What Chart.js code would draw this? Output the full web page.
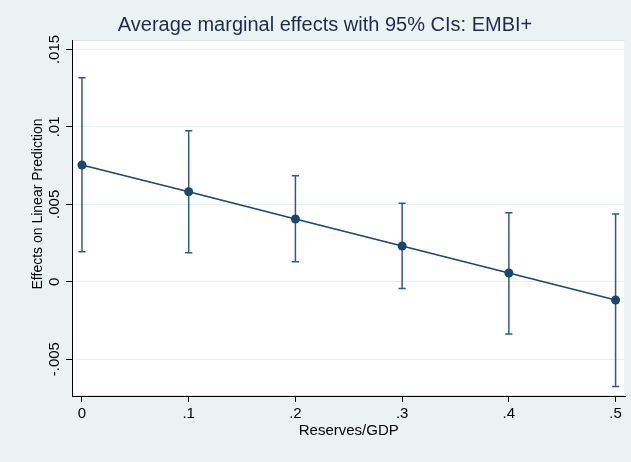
<!DOCTYPE html>
<html>
<head>
<meta charset="utf-8">
<script src="https://cdn.jsdelivr.net/npm/chart.js@4/dist/chart.umd.min.js"></script>
<style>
  html, body { margin: 0; padding: 0; background: #eaf2f3; }
  canvas { display: block; }
</style>
</head>
<body>
<canvas id="c" width="631" height="462"></canvas>
<script>
// ---- Data ----
const xValues   = [0, 0.1, 0.2, 0.3, 0.4, 0.5];
const effects   = [0.00754, 0.00581, 0.00405, 0.00231, 0.00056, -0.00118];
const ciLower   = [0.00194, 0.00187, 0.00129, -0.00043, -0.00338, -0.00676];
const ciUpper   = [0.01318, 0.00975, 0.00685, 0.00506, 0.00446, 0.00437];

const xTicks      = [0, 0.1, 0.2, 0.3, 0.4, 0.5];
const xTickLabels = ['0', '.1', '.2', '.3', '.4', '.5'];
const yTicks      = [-0.005, 0, 0.005, 0.01, 0.015];
const yTickLabels = ['-.005', '0', '.005', '.01', '.015'];

const titleText  = 'Average marginal effects with 95% CIs: EMBI+';
const xTitleText = 'Reserves/GDP';
const yTitleText = 'Effects on Linear Prediction';

// ---- Styles ----
const NAVY = '#1a476f';
const CI_COLOR = '#2e5a84';
const FONT = '"Liberation Sans", Arial, sans-serif';

const datasets = [{
  label: 'effect',
  data: xValues.map((x, i) => ({ x: x, y: effects[i] })),
  showLine: true,
  borderColor: NAVY,
  borderWidth: 1.5,
  pointRadius: 4.5,
  pointBackgroundColor: NAVY,
  pointBorderWidth: 0,
  order: 0
}];
xValues.forEach((x, i) => {
  datasets.push({
    label: 'ci' + i,
    data: [{ x: x, y: ciLower[i] }, { x: x, y: ciUpper[i] }],
    showLine: true,
    borderColor: CI_COLOR,
    borderWidth: 1.5,
    pointStyle: 'line',
    pointRadius: 3.6,
    pointBorderColor: CI_COLOR,
    pointBorderWidth: 1.5,
    order: 1
  });
});

const bgPlugin = {
  id: 'bg',
  beforeDraw(chart) {
    const { ctx, chartArea: a } = chart;
    ctx.save();
    ctx.fillStyle = '#eaf2f3';
    ctx.fillRect(0, 0, chart.width, chart.height);
    ctx.fillStyle = '#ffffff';
    ctx.fillRect(a.left, a.top, a.right - a.left, a.bottom - a.top);
    ctx.strokeStyle = '#dde7ea';
    ctx.lineWidth = 1;
    ctx.strokeRect(a.left + 0.5, a.top + 0.5, a.right - a.left - 1, a.bottom - a.top - 1);
    ctx.restore();
  }
};

const textPlugin = {
  id: 'texts',
  afterDraw(chart) {
    const { ctx, chartArea: a } = chart;
    const xs = chart.scales.x, ys = chart.scales.y;
    ctx.save();
    // Title
    ctx.fillStyle = '#1e2b4d';
    ctx.font = '20px ' + FONT;
    ctx.textAlign = 'center';
    ctx.textBaseline = 'alphabetic';
    ctx.fillText(titleText, 325, 31);

    // X tick labels
    ctx.fillStyle = '#000';
    ctx.font = '15px ' + FONT;
    ctx.textAlign = 'center';
    xTicks.forEach((v, i) => {
      ctx.fillText(xTickLabels[i], xs.getPixelForValue(v), 418);
    });
    // X title
    ctx.fillText(xTitleText, (a.left + a.right) / 2, 435);

    // Y tick labels (rotated)
    yTicks.forEach((v, i) => {
      ctx.save();
      ctx.translate(59, ys.getPixelForValue(v));
      ctx.rotate(-Math.PI / 2);
      ctx.textAlign = 'center';
      ctx.fillText(yTickLabels[i], 0, 0);
      ctx.restore();
    });
    // Y title
    ctx.save();
    ctx.font = '14px ' + FONT;
    ctx.translate(42, 204);
    ctx.rotate(-Math.PI / 2);
    ctx.textAlign = 'center';
    ctx.fillText(yTitleText, 0, 0);
    ctx.restore();
    ctx.restore();
  }
};

new Chart(document.getElementById('c'), {
  type: 'scatter',
  data: { datasets: datasets },
  options: {
    responsive: false,
    animation: false,
    layout: { padding: { left: 0, right: 4, top: 40, bottom: 0 } },
    plugins: { legend: { display: false }, tooltip: { enabled: false }, title: { display: false } },
    scales: {
      x: {
        type: 'linear',
        min: -0.00935,
        max: 0.5093,
        afterBuildTicks: s => { s.ticks = xTicks.map(v => ({ value: v })); },
        afterFit: s => { s.height = 66; },
        ticks: { display: false },
        grid: { drawOnChartArea: false, drawTicks: true, tickLength: 6, tickColor: '#000', color: '#000' },
        border: { display: true, color: '#000', width: 1 }
      },
      y: {
        type: 'linear',
        min: -0.00738,
        max: 0.01561,
        afterBuildTicks: s => { s.ticks = yTicks.map(v => ({ value: v })); },
        afterFit: s => { s.width = 72; },
        ticks: { display: false },
        grid: { drawOnChartArea: true, drawTicks: true, tickLength: 6, tickColor: '#000', color: '#e6eef0', lineWidth: 1 },
        border: { display: true, color: '#000', width: 1 }
      }
    }
  },
  plugins: [bgPlugin, textPlugin]
});
</script>
</body>
</html>
